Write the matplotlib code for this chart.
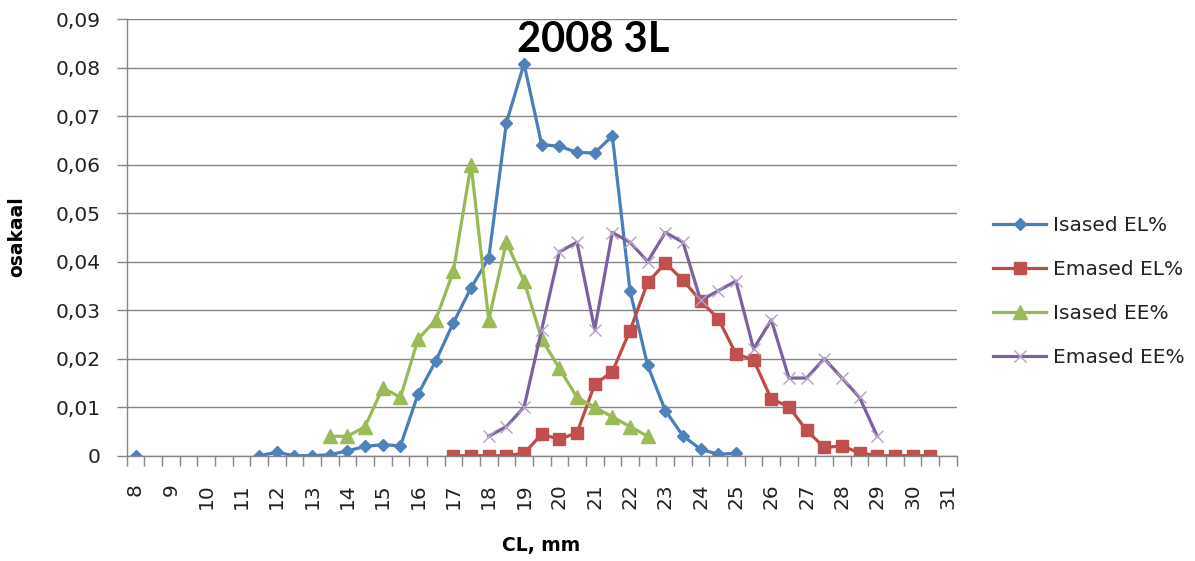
import numpy as np
import matplotlib
matplotlib.use("Agg")
import matplotlib.pyplot as plt
from matplotlib.ticker import FixedLocator, FuncFormatter

# ---- data ----
categories = [8 + 0.5 * i for i in range(47)]  # 8, 8.5, ..., 31
tick_labels = [str(v) for v in range(8, 32)]

N = None
isased_el = [0, N, N, N, N, N, N,
             0, 0.0007, 0, 0, 0.0002, 0.001, 0.0019, 0.0023, 0.002,
             0.0127, 0.0195, 0.0274, 0.0346, 0.0407, 0.0686, 0.0808, 0.0641,
             0.0638, 0.0625, 0.0624, 0.0659, 0.0340, 0.0186, 0.0093, 0.0041,
             0.0013, 0.0003, 0.0005,
             N, N, N, N, N, N, N, N, N, N, N, N]
emased_el = [N] * 18 + [0, 0, 0, 0, 0.0005, 0.0044, 0.0034, 0.0047, 0.0147,
                        0.0173, 0.0258, 0.0357, 0.0397, 0.0362, 0.0319, 0.0282,
                        0.0210, 0.0197, 0.0117, 0.0101, 0.0052, 0.0017, 0.0020,
                        0.0006, 0, 0, 0, 0, N]
isased_ee = [N] * 11 + [0.004, 0.004, 0.006, 0.014, 0.012, 0.024, 0.028, 0.038,
                        0.060, 0.028, 0.044, 0.036, 0.024, 0.018, 0.012, 0.010,
                        0.008, 0.006, 0.004] + [N] * 17
emased_ee = [N] * 20 + [0.004, 0.006, 0.010, 0.026, 0.042, 0.044, 0.026, 0.046,
                        0.044, 0.040, 0.046, 0.044, 0.032, 0.034, 0.036, 0.022,
                        0.028, 0.016, 0.016, 0.020, 0.016, 0.012, 0.004] + [N] * 4

series = [
    ("Isased EL%", isased_el, dict(color="#4A7EBB", marker="D", ms=6.5, mfc="#4F81BD", mec="#4F81BD")),
    ("Emased EL%", emased_el, dict(color="#BE4B48", marker="s", ms=9, mfc="#C0504D", mec="#C0504D")),
    ("Isased EE%", isased_ee, dict(color="#98B954", marker="^", ms=10, mfc="#9BBB59", mec="#9BBB59")),
    ("Emased EE%", emased_ee, dict(color="#7D60A0", marker="x", ms=9, mfc="#B3A2C7", mec="#B3A2C7", mew=1.0)),
]

plt.rcParams['font.family'] = ['DejaVu Sans']

fig = plt.figure(figsize=(11.95, 5.61), dpi=100)
ax = fig.add_axes([0.106, 0.1877, 0.6946, 0.7784])

x = np.array(categories, dtype=float)
for name, vals, style in series:
    y = np.array([np.nan if v is None else v for v in vals], dtype=float)
    ax.plot(x, y, lw=2.3, label=name, **style)

ax.set_xlim(7.75, 31.25)
ax.set_ylim(0, 0.09)

grid_col = "#868686"
ax.set_yticks(np.arange(0, 0.0901, 0.01))
ax.yaxis.set_major_formatter(FuncFormatter(lambda v, p: "0" if abs(v) < 1e-9 else f"{v:.2f}".replace(".", ",")))
ax.yaxis.grid(True, color=grid_col, lw=1.0)
ax.set_axisbelow(True)

ax.xaxis.set_major_locator(FixedLocator(list(range(8, 32))))
ax.set_xticklabels(tick_labels, rotation=90, va="top", ha="center")
ax.xaxis.set_minor_locator(FixedLocator(list(np.arange(7.75, 31.3, 0.5))))
ax.tick_params(axis="x", which="major", length=0, pad=20, labelsize=14.5, labelcolor="#222222")
ax.tick_params(axis="x", which="minor", length=7, width=1, color=grid_col, direction="out")
ax.tick_params(axis="y", length=7, width=1, color=grid_col, pad=12, labelsize=14.5, labelcolor="#222222")

for s in ("top", "right"):
    ax.spines[s].set_visible(False)
for s in ("left", "bottom"):
    ax.spines[s].set_color(grid_col)
    ax.spines[s].set_linewidth(1.0)

fig.text(593 / 1195, 1 - 40 / 561, "2008 3L", family="Lato", fontweight="bold",
         fontsize=30, ha="center", va="center")
fig.text(541 / 1195, 1 - 546 / 561, "CL, mm", fontweight="bold", fontsize=13.5,
         ha="center", va="center")
fig.text(17 / 1195, 1 - 237 / 561, "osakaal", fontweight="bold", fontsize=13.5,
         rotation=90, ha="center", va="center")

fig.legend(loc="center left", bbox_to_anchor=(993 / 1195, 1 - 291.5 / 561), frameon=False,
           fontsize=14.5, labelspacing=1.25, handlelength=2.65, handletextpad=0.35,
           borderpad=0, borderaxespad=0, labelcolor="#222222")

fig.savefig("out.png", dpi=100)
